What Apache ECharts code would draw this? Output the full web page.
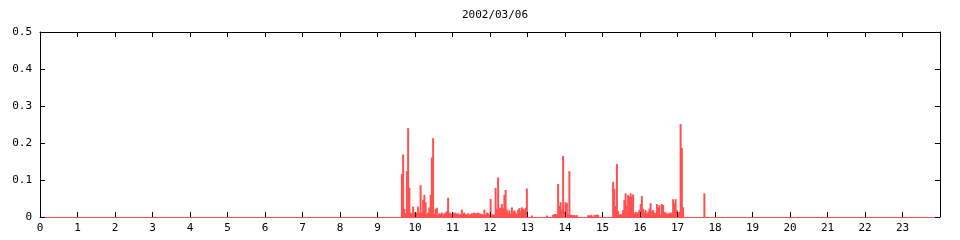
<!DOCTYPE html>
<html>
<head>
<meta charset="utf-8">
<script src="https://cdn.jsdelivr.net/npm/echarts@6/dist/echarts.min.js"></script>
<style>
html,body{margin:0;padding:0;background:#fff;}
#chart{width:960px;height:240px;}
</style>
</head>
<body>
<div id="chart"></div>
<script>
const chartTitle = "2002/03/06";
const startMinute = 576;   // 09:36
const stepMinutes = 2;
const activity = [
 0, 0.116, 0.169, 0.022, 0.01, 0.124, 0.24, 0.079, 0.012, 0.01,
 0.028, 0.012, 0.01, 0.012, 0.028, 0.012, 0.086, 0.012, 0.046, 0.06,
 0.04, 0.008, 0.012, 0.026, 0.06, 0.161, 0.213, 0.008, 0.022, 0.025,
 0.006, 0.01, 0.008, 0.012, 0.006, 0.01, 0.012, 0.016, 0.052, 0.012,
 0.01, 0.008, 0.012, 0.01, 0.012, 0.008, 0.01, 0.006, 0.008, 0.02,
 0.01, 0.012, 0.008, 0.006, 0.01, 0.006, 0.008, 0.01, 0.01, 0.012,
 0.01, 0.01, 0.012, 0.01, 0.008, 0.008, 0.006, 0.02, 0.006, 0.012,
 0.01, 0.008, 0.049, 0.008, 0.006, 0.006, 0.079, 0.022, 0.107, 0.024,
 0.025, 0.035, 0.024, 0.06, 0.073, 0.02, 0.012, 0.018, 0.008, 0.026,
 0.015, 0.018, 0.012, 0.008, 0.02, 0.024, 0.015, 0.026, 0.022, 0.018,
 0.025, 0.077, 0, 0, 0, 0.004, 0, 0, 0, 0,
 0, 0, 0, 0, 0, 0, 0, 0.004, 0, 0,
 0, 0, 0.006, 0.008, 0.008, 0.006, 0.089, 0.03, 0.04, 0.02,
 0.165, 0.015, 0.04, 0.038, 0.006, 0.124, 0.006, 0.005, 0.005, 0.005,
 0.004, 0.005, 0, 0, 0, 0, 0, 0, 0, 0,
 0.005, 0.003, 0.006, 0.004, 0, 0.005, 0.006, 0.006, 0.006, 0,
 0, 0, 0, 0, 0, 0, 0, 0, 0, 0,
 0.095, 0.076, 0.03, 0.143, 0.016, 0.006, 0.008, 0.006, 0.019, 0.046,
 0.064, 0.03, 0.059, 0.055, 0.064, 0.055, 0.061, 0.01, 0.014, 0.01,
 0.013, 0.019, 0.035, 0.057, 0.022, 0.012, 0.019, 0.01, 0.014, 0.023,
 0.037, 0.014, 0.019, 0.012, 0.01, 0.035, 0.026, 0.032, 0.005, 0.035,
 0.032, 0.014, 0.012, 0.01, 0.008, 0.012, 0.01, 0.012, 0.048, 0.037,
 0.048, 0.019, 0.01, 0.014, 0.251, 0.186, 0.026, 0, 0, 0,
 0, 0, 0, 0, 0, 0, 0, 0, 0, 0,
 0, 0, 0, 0.064, 0
];
const xMin = 0, xMax = 24, xInterval = 1;
const yMin = 0, yMax = 0.5, yInterval = 0.1;

// Bars at the centre of each 2-minute slot of the recorded window
const bars = activity.map((v, i) => [(startMinute + (i + 0.5) * stepMinutes) / 60, v]);

const FONT = 'DejaVu Sans Mono';
const RED = '#ff5050';
const tickStyle = {show: true, inside: true, length: 5, lineStyle: {color: '#000', width: 1}};
const chart = echarts.init(document.getElementById('chart'), null, {renderer: 'canvas'});
chart.setOption({
  animation: false,
  backgroundColor: '#ffffff',
  title: {
    text: chartTitle, left: 490, top: 5, textAlign: 'center',
    textStyle: {fontFamily: FONT, fontSize: 11, fontWeight: 'normal', color: '#000'}
  },
  grid: {left: 40, right: 20, top: 32, bottom: 23, containLabel: false},
  xAxis: [{
    type: 'value', min: xMin, max: xMax, interval: xInterval, position: 'bottom', z: 5,
    axisLine: {show: true, onZero: false, lineStyle: {color: RED, width: 1}},
    axisTick: tickStyle,
    splitLine: {show: false},
    axisLabel: {
      fontFamily: FONT, fontSize: 11, color: '#000', margin: 6,
      formatter: v => (v >= 24 ? '' : String(v))
    }
  }, {
    type: 'value', min: xMin, max: xMax, interval: xInterval, position: 'top', z: 5,
    axisLine: {show: true, onZero: false, lineStyle: {color: '#000', width: 1}},
    axisTick: tickStyle,
    splitLine: {show: false},
    axisLabel: {show: false}
  }],
  yAxis: [{
    type: 'value', min: yMin, max: yMax, interval: yInterval, position: 'left', z: 5,
    axisLine: {show: true, onZero: false, lineStyle: {color: '#000', width: 1}},
    axisTick: tickStyle,
    splitLine: {show: false},
    axisLabel: {fontFamily: FONT, fontSize: 11, color: '#000', margin: 8}
  }, {
    type: 'value', min: yMin, max: yMax, interval: yInterval, position: 'right', z: 5,
    axisLine: {show: true, onZero: false, lineStyle: {color: '#000', width: 1}},
    axisTick: tickStyle,
    splitLine: {show: false},
    axisLabel: {show: false}
  }],
  series: [{
    type: 'bar', data: bars, xAxisIndex: 0, yAxisIndex: 0,
    barWidth: 2, barGap: '-100%', z: 3,
    itemStyle: {color: RED}
  }]
});
</script>
</body>
</html>
